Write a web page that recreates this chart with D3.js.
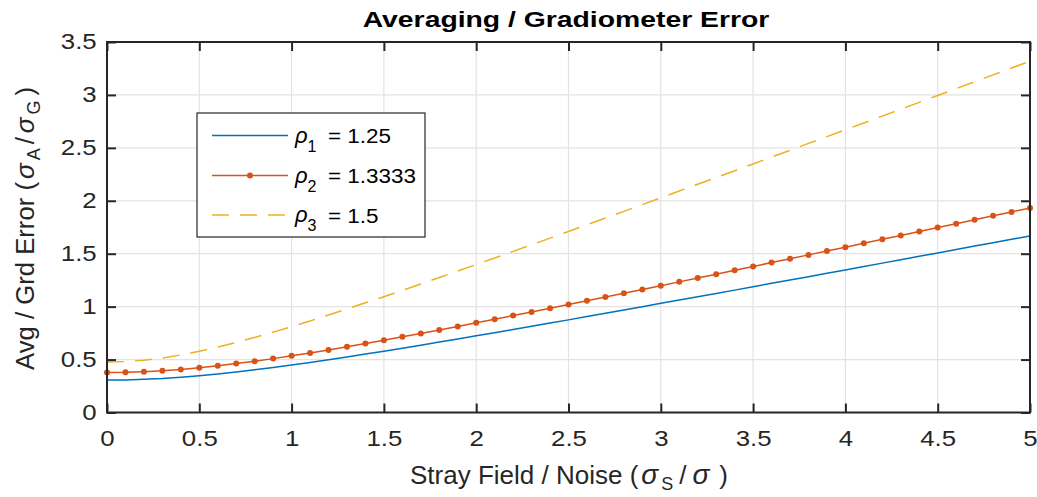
<!DOCTYPE html>
<html><head><meta charset="utf-8">
<script src="https://cdn.jsdelivr.net/npm/d3@7"></script>
<style>body{margin:0;background:#fff;} text{font-family:"Liberation Sans",Arial,sans-serif;}</style>
</head><body>
<svg id="c" width="1037" height="497"></svg>
<script>
const xValues = [0,0.1,0.2,0.3,0.4,0.5,0.6,0.7,0.8,0.9,1,1.1,1.2,1.3,1.4,1.5,1.6,1.7,1.8,1.9,2,2.1,2.2,2.3,2.4,2.5,2.6,2.7,2.8,2.9,3,3.1,3.2,3.3,3.4,3.5,3.6,3.7,3.8,3.9,4,4.1,4.2,4.3,4.4,4.5,4.6,4.7,4.8,4.9,5];
const rho1 = [0.306,0.308,0.313,0.321,0.333,0.347,0.364,0.383,0.403,0.425,0.449,0.473,0.499,0.525,0.552,0.579,0.608,0.636,0.665,0.694,0.724,0.754,0.784,0.814,0.845,0.875,0.906,0.937,0.968,0.999,1.031,1.062,1.093,1.125,1.156,1.188,1.220,1.252,1.283,1.315,1.347,1.379,1.411,1.443,1.475,1.507,1.540,1.572,1.604,1.636,1.668];
const rho2 = [0.378,0.380,0.386,0.395,0.407,0.423,0.441,0.462,0.485,0.509,0.535,0.563,0.591,0.621,0.652,0.683,0.715,0.747,0.780,0.813,0.847,0.881,0.916,0.950,0.985,1.020,1.055,1.091,1.127,1.162,1.198,1.234,1.270,1.307,1.343,1.379,1.416,1.452,1.489,1.526,1.562,1.599,1.636,1.673,1.710,1.747,1.784,1.821,1.858,1.895,1.932];
const rho3 = [0.476,0.481,0.494,0.515,0.544,0.578,0.618,0.662,0.709,0.759,0.811,0.865,0.921,0.978,1.036,1.094,1.154,1.214,1.275,1.336,1.398,1.460,1.522,1.584,1.647,1.710,1.773,1.837,1.900,1.964,2.028,2.092,2.156,2.220,2.284,2.348,2.413,2.477,2.542,2.606,2.671,2.735,2.800,2.865,2.930,2.995,3.060,3.124,3.189,3.254,3.319];
const xTicks = [0,0.5,1,1.5,2,2.5,3,3.5,4,4.5,5];
const yTicks = [0,0.5,1,1.5,2,2.5,3,3.5];
const seriesNames = ["1", "2", "3"];
const seriesValues = ["1.25", "1.3333", "1.5"];

const svg = d3.select("#c");
const L = 107, R = 1030, T = 42, B = 412.5;
const x = d3.scaleLinear().domain([0,5]).range([L,R]);
const y = d3.scaleLinear().domain([0,3.5]).range([B,T]);
const axisCol = "#262626";
const SX = 1.2;

// grid
const grid = svg.append("g");
grid.selectAll(".gx").data(xTicks).join("line")
  .attr("x1",d=>x(d)).attr("x2",d=>x(d)).attr("y1",T).attr("y2",B)
  .attr("stroke","#e3e3e3").attr("stroke-width",1.2);
grid.selectAll(".gy").data(yTicks).join("line")
  .attr("y1",d=>y(d)).attr("y2",d=>y(d)).attr("x1",L).attr("x2",R)
  .attr("stroke","#e3e3e3").attr("stroke-width",1.2);

// lines
const line = d3.line().x((d,i)=>x(xValues[i])).y(d=>y(d));
svg.append("clipPath").attr("id","clip").append("rect")
  .attr("x",L).attr("y",T).attr("width",R-L).attr("height",B-T);
const plot = svg.append("g").attr("clip-path","url(#clip)");
plot.append("path").datum(rho1).attr("d",line).attr("fill","none")
  .attr("stroke","#0072BD").attr("stroke-width",1.5);
plot.append("path").datum(rho2).attr("d",line).attr("fill","none")
  .attr("stroke","#D95319").attr("stroke-width",1.5);
svg.append("g").selectAll("circle").data(rho2).join("circle")
  .attr("cx",(d,i)=>x(xValues[i])).attr("cy",d=>y(d)).attr("r",3)
  .attr("fill","#D95319");
plot.append("path").datum(rho3).attr("d",line).attr("fill","none")
  .attr("stroke","#EDB120").attr("stroke-width",1.5).attr("stroke-dasharray","17,11");

// axes
const tickLen = 9;
const xAxisB = d3.axisBottom(x).tickValues(xTicks).tickSize(-tickLen).tickPadding(18).tickFormat(d3.format("~g"));
const xAxisT = d3.axisTop(x).tickValues(xTicks).tickSize(-tickLen).tickFormat("");
const yAxisL = d3.axisLeft(y).tickValues(yTicks).tickSize(-tickLen).tickPadding(8.6).tickFormat(d3.format("~g"));
const yAxisR = d3.axisRight(y).tickValues(yTicks).tickSize(-tickLen).tickFormat("");
function style(g){
  g.select(".domain").remove();
  g.selectAll(".tick line").attr("stroke",axisCol).attr("stroke-width",2);
  g.selectAll(".tick text").attr("fill",axisCol).attr("font-size",21.5)
    .attr("transform",`scale(${SX},1)`)
    .style("font-family","'Liberation Sans',Arial,sans-serif");
}
svg.append("g").attr("transform",`translate(0,${B})`).call(xAxisB).call(style);
svg.append("g").attr("transform",`translate(0,${T})`).call(xAxisT).call(style);
svg.append("g").attr("transform",`translate(${L},0)`).call(yAxisL).call(style);
svg.append("g").attr("transform",`translate(${R},0)`).call(yAxisR).call(style);
svg.append("rect").attr("x",L).attr("y",T).attr("width",R-L).attr("height",B-T)
  .attr("fill","none").attr("stroke",axisCol).attr("stroke-width",2);

// title
svg.append("text").attr("transform","translate(566,27.3) scale(1.3,1)").attr("text-anchor","middle")
  .attr("font-size",21.8).attr("font-weight","bold").attr("fill","#000")
  .text("Averaging / Gradiometer Error");

// x label
const xl = svg.append("text").attr("x",410).attr("y",484)
  .attr("font-size",26).attr("fill",axisCol);
xl.append("tspan").text("Stray Field / Noise (");
xl.append("tspan").attr("dx",3).attr("font-style","italic").attr("font-size",28).text("σ");
xl.append("tspan").attr("dx",3).attr("font-size",18).attr("dy",6).text("S");
xl.append("tspan").attr("dx",6).attr("dy",-6).text("/");
xl.append("tspan").attr("dx",6).attr("font-style","italic").attr("font-size",28).text("σ");
xl.append("tspan").attr("dx",10).text(")");

// y label
const yl = svg.append("text").attr("transform",`translate(34,370) rotate(-90)`)
  .attr("font-size",25.7).attr("fill",axisCol);
yl.append("tspan").text("Avg / Grd Error (");
yl.append("tspan").attr("dx",3).attr("font-style","italic").attr("font-size",26).text("σ");
yl.append("tspan").attr("dx",3).attr("font-size",18).attr("dy",6).text("A");
yl.append("tspan").attr("dx",4).attr("dy",-6).text("/");
yl.append("tspan").attr("dx",4).attr("font-style","italic").attr("font-size",26).text("σ");
yl.append("tspan").attr("dx",3).attr("font-size",18).attr("dy",6).text("G");
yl.append("tspan").attr("dx",5).attr("dy",-6).text(")");

// legend
const lg = svg.append("g");
lg.append("rect").attr("x",197).attr("y",113).attr("width",228).attr("height",124)
  .attr("fill","#fff").attr("stroke","#262626").attr("stroke-width",1.2);
const rowsY = [135.5, 175.5, 215];
const cols = ["#0072BD","#D95319","#EDB120"];
seriesNames.forEach((n,i)=>{
  const ln = lg.append("line").attr("x1",212).attr("x2",288).attr("y1",rowsY[i]).attr("y2",rowsY[i])
    .attr("stroke",cols[i]).attr("stroke-width",1.5);
  if(i===2) ln.attr("stroke-dasharray","17,11");
  if(i===1) lg.append("circle").attr("cx",250).attr("cy",rowsY[i]).attr("r",3).attr("fill",cols[i]);
  lg.append("text").attr("x",295).attr("y",rowsY[i]+7).attr("font-size",22)
    .attr("font-style","italic").attr("fill","#000").text("ρ");
  lg.append("text").attr("x",307.5).attr("y",rowsY[i]+16).attr("font-size",16)
    .attr("fill","#000").text(n);
  lg.append("text").attr("transform",`translate(328,${rowsY[i]+7.5}) scale(1.07,1)`).attr("font-size",21)
    .attr("fill","#000").text("= " + seriesValues[i]);
});
</script>
</body></html>
